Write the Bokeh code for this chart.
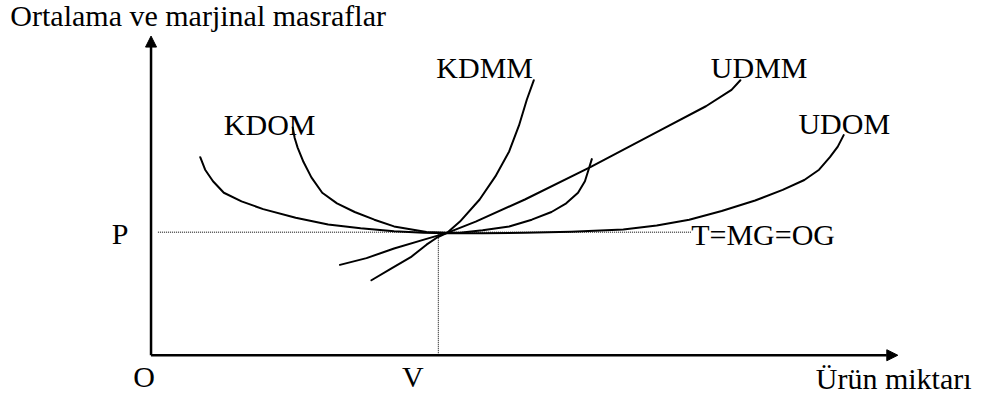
from bokeh.plotting import figure
from bokeh.models import Range1d, Arrow, NormalHead, ColumnDataSource
from bokeh.core.properties import value
from bokeh.embed import file_html
from bokeh.resources import INLINE

# --- data (quantity q, cost c) ---
udom_q = [50, 55, 63, 74, 92, 114, 147, 180, 213, 247, 277, 301, 337, 380, 427, 480, 514, 547, 580, 614, 642, 664, 679, 690, 698, 704]
udom_c = [206, 193, 181, 169, 160, 152, 143, 136, 132, 129, 127.5, 127, 127, 127.3, 128.5, 130.7, 135, 141, 150, 161, 172, 182.3, 193, 206, 217, 229]

kdom_q = [144, 146, 149, 155, 163, 174, 189, 207, 227, 247, 280, 301, 314, 337, 364, 387, 407, 422, 434, 441, 445, 448]
kdom_c = [237, 226, 216, 201, 185, 169, 158, 149, 141, 134, 128.3, 127.3, 127.3, 130, 134, 141, 149, 158, 169, 181, 194, 204]

kdmm_q = [224, 244, 264, 280, 290, 301, 314, 334, 350, 364, 374, 382, 389]
kdmm_c = [78, 90, 102, 115, 122, 127.3, 139, 162, 186, 212, 239, 266, 286]

udmm_q = [192, 219, 247, 280, 301, 330, 380, 447, 514, 564, 590, 599]
udmm_c = [94, 101, 111, 121, 127.3, 139, 162, 196, 232, 259, 276, 286]

price_level = 128       # P
quantity_v = 292        # V
x_axis_end = 759
y_axis_end = 332
p_line_start = 7
p_line_end = 549

labels = ["KDOM", "KDMM", "UDMM", "UDOM", "P", "O", "V", "T=MG=OG"]
label_q = [74, 290, 569, 658, -40, -18, 255, 549]
label_c = [240, 299, 299, 241, 127, -22, -22, 126]

title_text = "Ortalama ve marjinal masraflar"
xlabel_text = "Ürün miktarı"

FONT = value("Liberation Serif")
FS = "30px"

p = figure(width=976, height=398, output_backend="svg", toolbar_location=None,
           x_range=Range1d(-153, 839), y_range=Range1d(-45, 369),
           x_axis_type=None, y_axis_type=None, min_border=0,
           outline_line_color=None, background_fill_color="white",
           border_fill_color="white")
p.grid.visible = False

# dotted guide lines
p.line([p_line_start, p_line_end], [price_level, price_level], line_color="black",
       line_width=1, line_dash="1 1")
p.line([quantity_v, quantity_v], [0, price_level], line_color="black",
       line_width=1, line_dash="1 1")

# curves
for q, c in [(udom_q, udom_c), (kdom_q, kdom_c), (kdmm_q, kdmm_c), (udmm_q, udmm_c)]:
    p.line(q, c, line_color="black", line_width=2, line_join="round", line_cap="round")

# axes with arrows
p.add_layout(Arrow(end=NormalHead(size=11, fill_color="black", line_color="black"),
                   x_start=0, y_start=0, x_end=0, y_end=y_axis_end,
                   line_width=2.5, line_color="black"))
p.add_layout(Arrow(end=NormalHead(size=11, fill_color="black", line_color="black"),
                   x_start=0, y_start=0, x_end=x_axis_end, y_end=0,
                   line_width=2.5, line_color="black"))

src = ColumnDataSource(dict(x=label_q, y=label_c, t=labels))
p.text(x="x", y="y", text="t", source=src, text_font=FONT, text_font_size=FS,
       text_baseline="alphabetic", text_align="left", text_color="black")

p.text(x=[-143], y=[353], text=[title_text], text_font=FONT, text_font_size=FS,
       text_baseline="alphabetic", text_align="left", text_color="black")
p.text(x=[834], y=[-24], text=[xlabel_text], text_font=FONT, text_font_size=FS,
       text_baseline="alphabetic", text_align="right", text_color="black")

open("out.html", "w").write(file_html(p, INLINE))
